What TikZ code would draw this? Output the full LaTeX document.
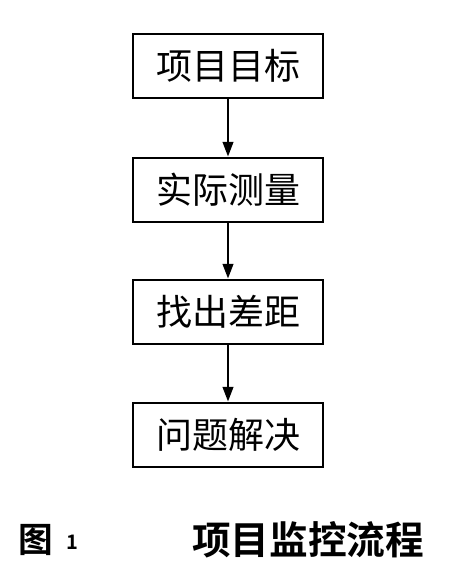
\documentclass[tikz,border=0pt]{standalone}
\usepackage{fontspec}
\newfontfamily\cjk{Noto Sans CJK SC}
\newfontfamily\cjkb{Noto Sans CJK SC Bold}
\usetikzlibrary{arrows.meta}
\begin{document}
\begin{tikzpicture}[x=0.75pt,y=-0.75pt,
  stepbox/.style={draw=black,line width=2.2pt,minimum width=142.5pt,minimum height=48pt,inner sep=0pt,font=\cjk\fontsize{27}{30}\selectfont},
  conn/.style={line width=1.5pt,-{Triangle[length=11pt,width=8pt]}}]
\useasboundingbox (0,0) rectangle (451,580);
\node[stepbox] (a) at (228,66) {项目目标};
\node[stepbox] (b) at (228,190) {实际测量};
\node[stepbox] (c) at (228,312) {找出差距};
\node[stepbox] (d) at (228,435) {问题解决};
\draw[conn] (a) -- (b);
\draw[conn] (b) -- (c);
\draw[conn] (c) -- (d);
\node[font=\cjkb\fontsize{26}{28}\selectfont,anchor=west,inner sep=0pt] (t1) at (18,540) {图};
\node[font=\cjkb\fontsize{15}{17}\selectfont,anchor=west,inner sep=0pt] (t2) at (66,542) {1};
\node[font=\cjkb\fontsize{29}{32}\selectfont,anchor=west,inner sep=0pt] (t3) at (192,540) {项目监控流程};
\end{tikzpicture}
\end{document}
